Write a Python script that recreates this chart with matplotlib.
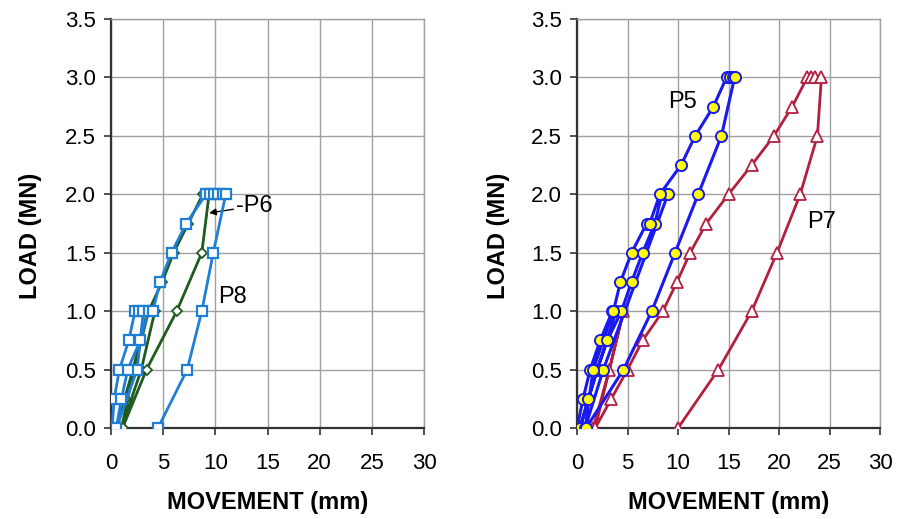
import matplotlib.pyplot as plt

plt.rcParams['font.family'] = ['Liberation Sans', 'DejaVu Sans']

# P8 (left, light blue squares)
p8_x = [0.1, 0.3, 0.8, 1.7, 2.3, 2.7, 3.1, 2.5, 0.5, 1.0, 1.6, 2.8, 3.6, 4.0,
        4.7, 5.8, 7.2, 9.1, 9.5, 9.9, 10.3, 10.7, 11.0, 9.8, 8.7, 7.3, 4.5]
p8_y = [0, 0.25, 0.5, 0.75, 1.0, 1.0, 1.0, 0.5, 0, 0.25, 0.5, 0.75, 1.0, 1.0,
        1.25, 1.5, 1.75, 2.0, 2.0, 2.0, 2.0, 2.0, 2.0, 1.5, 1.0, 0.5, 0]

# P6 (left, dark green diamonds)
p6_x = [0.6, 1.3, 2.1, 2.8, 3.5, 3.9, 4.2, 2.9, 1.0, 2.2, 3.6, 4.9, 6.0, 7.4,
        8.8, 9.1, 9.4, 8.7, 6.3, 3.4, 1.1]
p6_y = [0, 0.25, 0.5, 0.75, 1.0, 1.0, 1.0, 0.5, 0, 0.5, 1.0, 1.25, 1.5, 1.75,
        2.0, 2.0, 2.0, 1.5, 1.0, 0.5, 0]

# P5 (right, blue line, yellow circles)
p5_x = [0.0, 0.6, 1.3, 2.3, 3.5, 3.9, 2.0, 0.3,
        1.1, 2.0, 3.0, 4.4, 5.4, 6.5, 7.7, 8.4, 8.7, 9.0, 2.6, 0.8,
        1.6, 3.6, 4.3, 5.4, 6.9, 7.2, 8.2, 10.3, 11.7, 13.5, 14.8, 15.1, 15.4, 15.6,
        14.3, 12.0, 9.7, 7.4, 4.6, 0.9]
p5_y = [0, 0.25, 0.5, 0.75, 1.0, 1.0, 0.5, 0,
        0.25, 0.5, 0.75, 1.0, 1.25, 1.5, 1.75, 2.0, 2.0, 2.0, 0.5, 0,
        0.5, 1.0, 1.25, 1.5, 1.75, 1.75, 2.0, 2.25, 2.5, 2.75, 3.0, 3.0, 3.0, 3.0,
        2.5, 2.0, 1.5, 1.0, 0.5, 0]

# P7 (right, crimson line, open triangles)
p7_x = [1.6, 3.2, 4.6, 1.8, 3.4, 5.0, 6.5, 8.5, 9.9, 11.2, 12.8, 15.0, 17.3,
        19.5, 21.3, 22.8, 23.2, 23.6, 24.2, 23.8, 22.1, 19.8, 17.3, 14.0, 10.0]
p7_y = [0, 0.5, 1.0, 0, 0.25, 0.5, 0.75, 1.0, 1.25, 1.5, 1.75, 2.0, 2.25,
        2.5, 2.75, 3.0, 3.0, 3.0, 3.0, 2.5, 2.0, 1.5, 1.0, 0.5, 0]

x_ticks = [0, 5, 10, 15, 20, 25, 30]
y_ticks = [0.0, 0.5, 1.0, 1.5, 2.0, 2.5, 3.0, 3.5]

fig = plt.figure(figsize=(9.05, 5.19), dpi=100)
ax1 = fig.add_axes([0.1227, 0.1753, 0.3458, 0.7881])
ax2 = fig.add_axes([0.6376, 0.1753, 0.3348, 0.7881])

ax1.plot(p6_x, p6_y, color='#1f5a1f', lw=2.0, marker='D', ms=5.5,
         mfc='white', mec='#1f5a1f', mew=1.3, zorder=3)
ax1.plot(p8_x, p8_y, color='#1f7fd4', lw=2.0, marker='s', ms=7.5,
         mfc='white', mec='#1f7fd4', mew=1.6, zorder=4)

ax2.plot(p7_x, p7_y, color='#b3203f', lw=2.0, marker='^', ms=8,
         mfc='white', mec='#b3203f', mew=1.3, zorder=3)
ax2.plot(p5_x, p5_y, color='#1a1aee', lw=2.2, marker='o', ms=8,
         mfc='#ffff00', mec='#1a1aee', mew=1.4, zorder=4)

for ax in (ax1, ax2):
    ax.set_xlim(0, 30)
    ax.set_ylim(0, 3.5)
    ax.set_xticks(x_ticks)
    ax.set_yticks(y_ticks)
    ax.set_yticklabels([f'{v:.1f}' for v in y_ticks])
    ax.grid(True, color='#a0a0a0', lw=1.0)
    ax.set_axisbelow(True)
    ax.tick_params(direction='out', length=5, width=1.2, labelsize=16,
                   colors='#333333', labelcolor='black', pad=6)
    ax.tick_params(axis='x', pad=13)
    for s in ('left', 'bottom'):
        ax.spines[s].set_color('#333333')
        ax.spines[s].set_linewidth(1.6)
    for s in ('top', 'right'):
        ax.spines[s].set_color('#a0a0a0')
        ax.spines[s].set_linewidth(1.0)
    ax.set_xlabel('MOVEMENT (mm)', fontsize=17, fontweight='bold', labelpad=12)
    ax.set_ylabel('LOAD (MN)', fontsize=17, fontweight='bold')
    ax.yaxis.set_label_coords(-0.22, 0.47)

ax1.text(10.3, 1.12, 'P8', fontsize=17, va='center', ha='left')
ax1.annotate('-P6', xy=(9.4, 1.84), xytext=(12.0, 1.9), fontsize=17,
             va='center', ha='left',
             arrowprops=dict(arrowstyle='-|>', color='black', lw=1.0,
                             mutation_scale=10, shrinkA=0, shrinkB=0))
ax2.text(9.0, 2.79, 'P5', fontsize=17, va='center', ha='left')
ax2.text(22.8, 1.76, 'P7', fontsize=17, va='center', ha='left')

fig.savefig('out.png', dpi=100)
